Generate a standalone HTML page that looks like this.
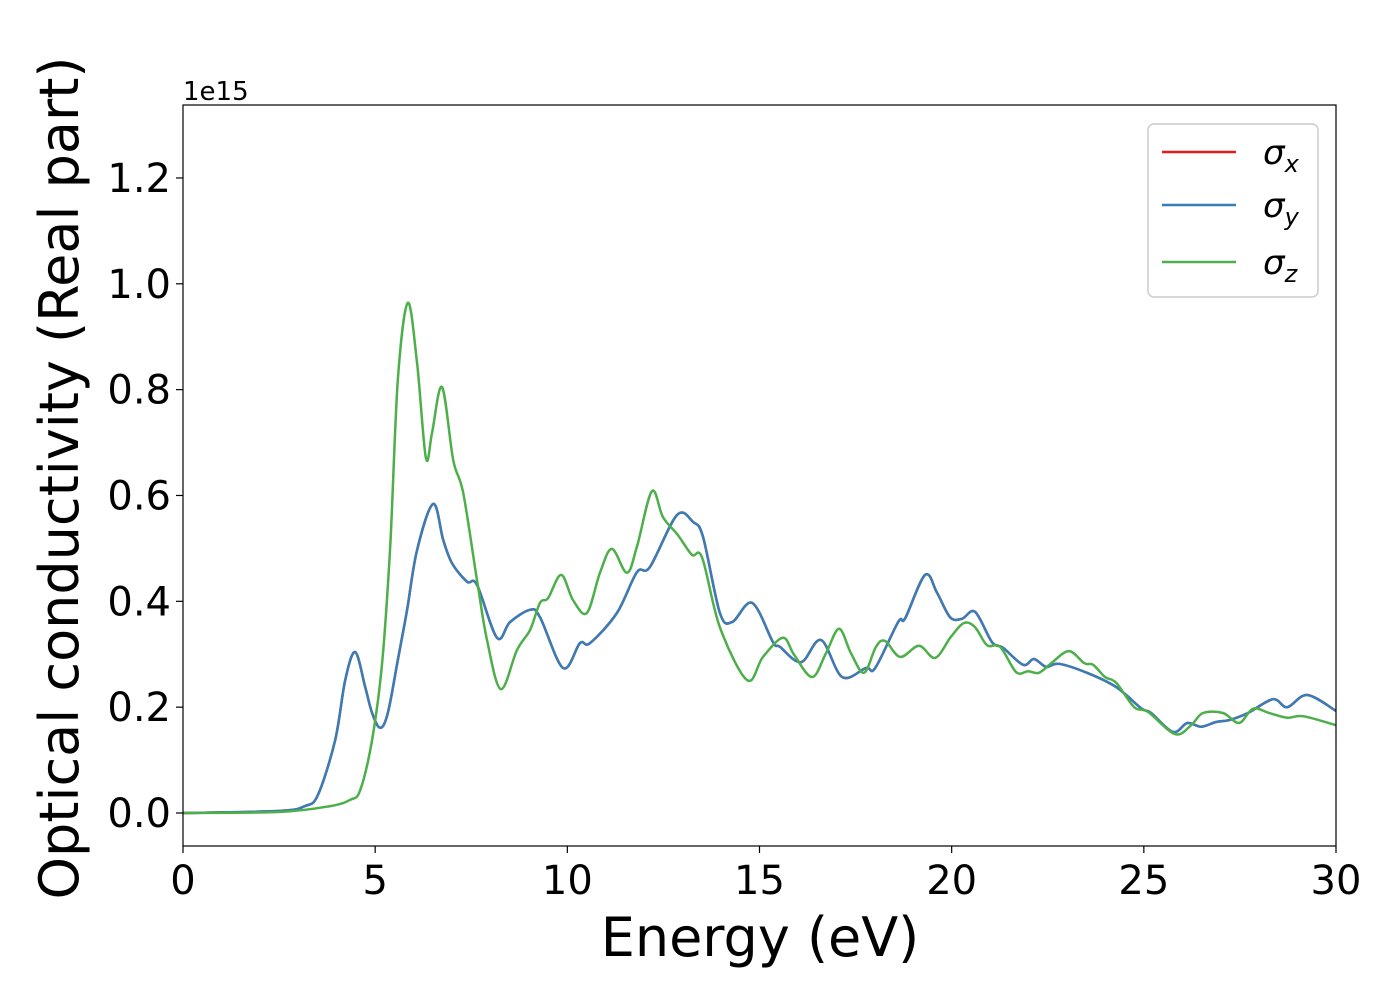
<!DOCTYPE html>
<html><head><meta charset="utf-8"><style>
html,body{margin:0;padding:0;background:#fff;}
svg text{font-family:"DejaVu Sans","Liberation Sans",sans-serif;}
</style></head><body>
<svg id="chart" width="1400" height="1000" xmlns="http://www.w3.org/2000/svg">
<rect width="1400" height="1000" fill="#fff"/>
<g id="plot"></g>
<g id="axes"></g>
<text x="183" y="100" font-size="26">1e15</text>
<text x="760" y="956" font-size="54" text-anchor="middle">Energy (eV)</text>
<text transform="translate(78,478) rotate(-90)" font-size="54" text-anchor="middle">Optical conductivity (Real part)</text>
<g>
<rect x="1148" y="124" width="170" height="173" rx="6" fill="#fff" stroke="#ccc" stroke-width="1.5"/>
<g><line x1="1162" y1="152" x2="1236" y2="152" stroke="#e41a1c" stroke-width="2.5"/><text x="1263" y="164" font-size="34" font-style="italic">σ<tspan font-size="24" dy="8">x</tspan></text></g>
<g><line x1="1162" y1="205" x2="1236" y2="205" stroke="#377eb8" stroke-width="2.5"/><text x="1263" y="217" font-size="34" font-style="italic">σ<tspan font-size="24" dy="8">y</tspan></text></g>
<g><line x1="1162" y1="262" x2="1236" y2="262" stroke="#4daf4a" stroke-width="2.5"/><text x="1263" y="274" font-size="34" font-style="italic">σ<tspan font-size="24" dy="8">z</tspan></text></g>
</g>
</svg>
<script>
const xTicks=[0,5,10,15,20,25,30];
const yTicks=[0.0,0.2,0.4,0.6,0.8,1.0,1.2];
const yTickLabels=["0.0","0.2","0.4","0.6","0.8","1.0","1.2"];
const energyXY=[0,2.52,3.17,3.51,3.96,4.22,4.48,4.74,4.92,5.13,5.33,5.59,5.83,6.09,6.51,6.77,7.00,7.39,7.65,8.17,8.51,9.03,9.29,9.89,10.33,10.59,11.29,11.81,12.15,12.85,13.27,13.53,13.97,14.29,14.81,15.35,15.53,16.08,16.60,17.15,17.77,18.01,18.61,18.79,19.31,19.62,19.96,20.27,20.61,21.05,21.34,21.86,22.14,22.46,22.79,23.52,24.28,24.93,25.19,25.76,26.13,26.49,26.88,27.24,27.71,28.36,28.73,29.25,30.0];
const sigmaXY=[0,0.004,0.013,0.034,0.138,0.251,0.304,0.238,0.189,0.161,0.189,0.289,0.384,0.497,0.584,0.516,0.472,0.437,0.431,0.331,0.361,0.384,0.370,0.274,0.321,0.321,0.378,0.455,0.465,0.563,0.550,0.522,0.378,0.361,0.397,0.323,0.314,0.285,0.327,0.257,0.274,0.274,0.361,0.368,0.450,0.416,0.370,0.367,0.380,0.323,0.312,0.280,0.291,0.276,0.282,0.265,0.238,0.198,0.189,0.153,0.170,0.163,0.172,0.176,0.189,0.215,0.200,0.223,0.193];
const energyZ=[0,2.52,3.83,4.35,4.61,4.92,5.18,5.39,5.59,5.85,6.09,6.32,6.48,6.74,7.03,7.29,7.65,7.91,8.27,8.69,9.03,9.29,9.50,9.84,10.15,10.51,10.85,11.16,11.55,11.81,12.20,12.49,12.88,13.24,13.51,13.97,14.68,15.09,15.61,15.90,16.37,16.73,17.07,17.38,17.72,18.03,18.27,18.66,19.15,19.57,19.98,20.32,20.61,20.92,21.26,21.68,21.99,22.27,22.59,23.05,23.45,23.68,23.99,24.28,24.75,25.11,25.81,26.23,26.54,27.06,27.48,27.84,28.26,28.73,29.14,30.0];
const sigmaZ=[0,0.002,0.013,0.025,0.043,0.138,0.283,0.503,0.818,0.964,0.850,0.671,0.718,0.805,0.667,0.605,0.440,0.327,0.234,0.308,0.346,0.397,0.406,0.450,0.402,0.378,0.454,0.499,0.454,0.503,0.608,0.559,0.525,0.488,0.482,0.351,0.251,0.295,0.331,0.299,0.257,0.302,0.348,0.302,0.265,0.314,0.325,0.295,0.316,0.293,0.333,0.359,0.351,0.317,0.314,0.266,0.268,0.265,0.283,0.306,0.283,0.280,0.257,0.246,0.200,0.191,0.149,0.166,0.189,0.189,0.170,0.197,0.189,0.180,0.183,0.166];

const NS="http://www.w3.org/2000/svg";
const X0=183,X1=1336,YT=105,YB=846;
const xs=e=>X0+(e-0)/(30-0)*(X1-X0);
const ys=v=>813-v*529.2;
function mk(tag,attrs,parent){const el=document.createElementNS(NS,tag);for(const k in attrs)el.setAttribute(k,attrs[k]);parent.appendChild(el);return el;}
function pathFor(E,V){
  const p=E.map((e,i)=>[xs(e),ys(V[i])]);
  let d="M"+p[0][0]+","+p[0][1];
  for(let i=0;i<p.length-1;i++){
    const p0=p[Math.max(0,i-1)],p1=p[i],p2=p[i+1],p3=p[Math.min(p.length-1,i+2)];
    const c1=[p1[0]+(p2[0]-p0[0])/6,p1[1]+(p2[1]-p0[1])/6];
    const c2=[p2[0]-(p3[0]-p1[0])/6,p2[1]-(p3[1]-p1[1])/6];
    d+=" C"+c1[0].toFixed(1)+","+c1[1].toFixed(1)+" "+c2[0].toFixed(1)+","+c2[1].toFixed(1)+" "+p2[0].toFixed(1)+","+p2[1].toFixed(1);
  }
  return d;
}
const plot=document.getElementById('plot');
const lx=mk('path',{d:pathFor(energyXY,sigmaXY),fill:'none',stroke:'#e41a1c','stroke-width':2.5},plot);


const ly=mk('path',{d:pathFor(energyXY,sigmaXY),fill:'none',stroke:'#377eb8','stroke-width':2.5},plot);


const lz=mk('path',{d:pathFor(energyZ,sigmaZ),fill:'none',stroke:'#4daf4a','stroke-width':2.5},plot);



const axes=document.getElementById('axes');
const frame=mk('rect',{x:X0,y:YT,width:X1-X0,height:YB-YT,fill:'none',stroke:'#000','stroke-width':1.2},axes);


xTicks.forEach(t=>{
  const x=xs(t);
  const tk=mk('line',{x1:x,y1:YB,x2:x,y2:YB+7,stroke:'#000','stroke-width':1.2},axes);
  
  
  const tx=mk('text',{x:x,y:YB+48,'font-size':40,'text-anchor':'middle'},axes);
  tx.textContent=String(t);
  
  
});
yTicks.forEach((t,i)=>{
  const y=ys(t);
  const tk=mk('line',{x1:X0-7,y1:y,x2:X0,y2:y,stroke:'#000','stroke-width':1.2},axes);
  
  
  const tx=mk('text',{x:X0-12,y:y+14,'font-size':40,'text-anchor':'end'},axes);
  tx.textContent=yTickLabels[i];
  
  
});
</script>
</body></html>
